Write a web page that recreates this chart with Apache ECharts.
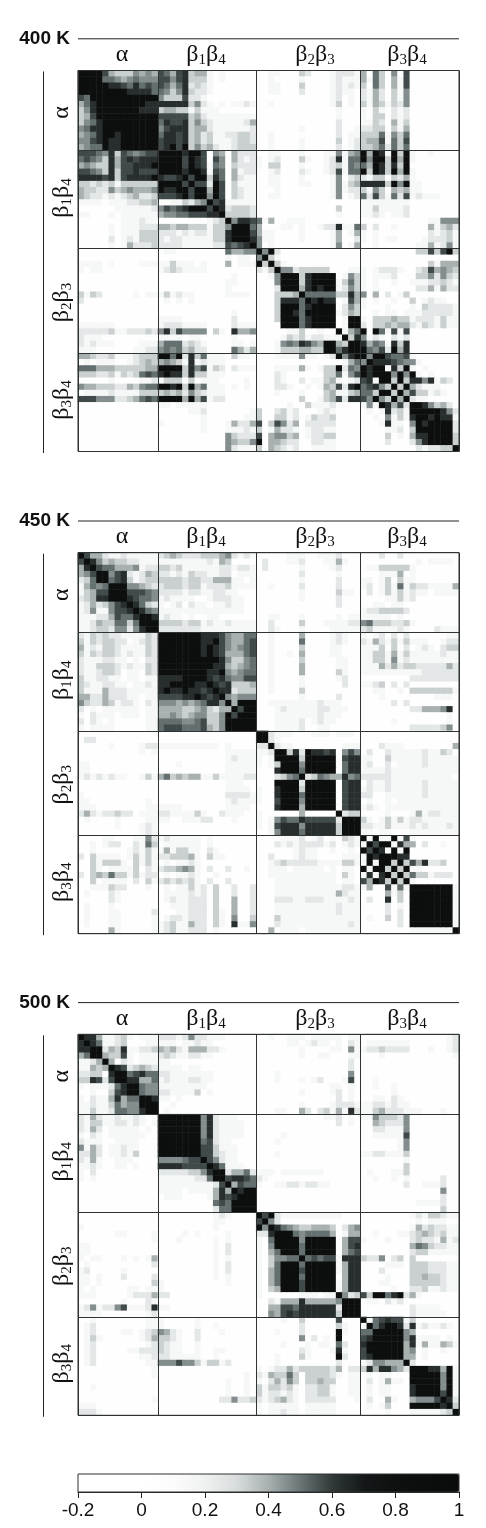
<!DOCTYPE html>
<html>
<head>
<meta charset="utf-8">
<style>html,body{margin:0;padding:0;background:#fff}#main{width:486px;height:1528px}</style>
<script src="https://cdn.jsdelivr.net/npm/echarts@6/dist/echarts.min.js"></script>
</head>
<body>
<div id="main"></div>
<script>
// residue groups along both axes of every matrix
const groupNames = [['α'], ['β', '1', 'β', '4'], ['β', '2', 'β', '3'], ['β', '3', 'β', '4']]
const groupSizes = [13, 16, 17, 16]
const temps = ['400 K', '450 K', '500 K']
const tickLabels = ['-0.2', '0', '0.2', '0.4', '0.6', '0.8', '1']

// grey level -> correlation value
const levels = [0.05, 0.15, 0.25, 0.33, 0.4, 0.46, 0.51, 0.57, 0.63, 0.85]

// matrices are symmetric: one row per residue, from the diagonal to the right,
// one digit (index in levels) per cell, a space at each group boundary
const m400 = [
'9999743335454 7647834410100000 00110003200012221 4063050700000000',
'999665456555 7757833310100000 00100001000012111 4163041700000000',
'99988768676 7646823210000000 00110003000012121 3063041700000000',
'9999988886 6535832210000000 00110002000012110 2142031500000000',
'999999999 5333722100000000 00000000000012010 2142031500000000',
'99999988 8888835210101121 00100000000013010 3143132500000000',
'9999888 3443313111000000 00000000000001000 1031021200000000',
'999999 7777734211111111 00000000000001000 1033021200000000',
'99999 6877835321111124 00000000000002000 1132041300000000',
'9999 5788834421111112 00000001000002001 2233031400000000',
'999 6887834231122332 00100000000002011 3336153600000000',
'99 7887834231112332 00100001000003012 3447163700000000',
'9 7897935342112333 00100001000002012 3346263600000000',
'9999899705404222 00110001000115145 9498193910010000',
'999798707504212 10120003100128166 9599394910000000',
'99798716503222 10330001000123165 6498383900000000',
'9899817604122 00120002100127166 9398394910000000',
'979938604211 00110001000015023 2133032410000000',
'97729703111 00110001100015134 8888395911000000',
'9949703211 00010000000015122 3153043411000000',
'959703211 00110000000015012 6273162712111000',
'97811111 00000000000000000 1111111100000000',
'9823332 00000000000003000 1131111200000000',
'933332 00000000000001000 1121011200000000',
'95887 61400111000000000 0000000000011555',
'9996 40001101001228116 3020010000041342',
'997 41100001000014014 1010000000021231',
'98 51100001000014002 1010110000122231',
'9 50100000000015014 0010000001141251',
'95920000000000000 0000000003373793',
'9310000000000000 0000000000000000',
'931000000000000 0000000000031444',
'95523333300011 1012221002374543',
'9993899990153 1011120003352532',
'993899991363 1010010011122321',
'94898991253 1010000002241422',
'9666663384 5040201300000000',
'989880174 1010010030121100',
'99990253 1000100010322221',
'9991243 0010110111222221',
'990199 1033343312221311',
'90199 2033434421321311',
'9146 9096171700000000',
'938 5121021200000000',
'99 8465183800000000',
'9 9657294800000000',
'9599766710000000',
'988876551000000',
'99183910100000',
'9959591010000',
'939388581320',
'93942111000',
'9473312100',
'921100000',
'99853420',
'9999852',
'989881',
'99992',
'9992',
'993',
'93',
'9'
]

const m450 = [
'9744211211111 2343222333452121 00000111001112000 0002002000000000',
'985343322111 1111111121430000 02000112000114100 0000000001011110',
'97664445122 3323111111221221 02000001000012000 0113333310000000',
'9957821243 2212132211220111 00000002000001000 0001114010000000',
'967831233 3333233224441101 00000001000002000 1101303110000000',
'99955432 2333233122231111 00100002000002000 1201316132211114',
'9977765 2222122112211000 00000001000003110 0201313121101111',
'987665 1211110012221100 00000001000002000 0000113120000000',
'98632 1012021101121100 00000000000002000 0011011000000000',
'9865 1111111111111100 00000000000000000 1223333200000000',
'998 1211010011000000 00110001000001011 1111101000000000',
'99 3333233121121111 00200003000111122 5633322310000000',
'9 2222222111111111 00210001000011111 2311112100002111',
'9999999888754466 00100004000012100 1012020200000011',
'999999889754467 00100006000012100 2142131311100122',
'99999898754567 00100003000011000 1113030201210233',
'9999898744467 00100104000011000 1133141311111211',
'999999853356 00100003000001100 1133151211111111',
'99998843456 00100004000001100 1114242332222242',
'9988954566 00100004000003100 1111111111222222',
'987865577 00100001000001200 0000000022222222',
'98783334 00100001000000200 1123020200000000',
'9882333 00100003000000000 0011001033333331',
'954555 00000001000002000 0001000000001110',
'94999 00111111112111000 0000020200000000',
'9799 00012111112211100 0000000022444580',
'999 00011111112111000 0000000000000010',
'99 00011112012110000 0000010000000010',
'9 00011112001100000 0000000022222350',
'99211100011101110 0000000000000000',
'9210000000000000 0000000000000000',
'921100000000111 0002111000000004',
'99382988780575 0200211111211320',
'9993999990788 1100311111211111',
'995999990688 1200201111211111',
'96999990688 1111211111111111',
'9236544856 2222211111111110',
'999990788 0211211111211111',
'99990788 1211211111211111',
'9990788 2200111111211111',
'990788 0100101111111111',
'90788 1210111111111111',
'9233 0000100014122111',
'999 3101313122111111',
'99 2211311121211121',
'9 1101100011111111',
'9191191710000000',
'979918440200100',
'98191900000000',
'9998800000000',
'939374822300',
'93911000000',
'9363312220',
'910000000',
'99999991',
'9999991',
'999991',
'99991',
'9991',
'991',
'91',
'9'
]

const m500 = [
'9884112310111 2221252211100000 00100111011111011 0000000000000012',
'986112300011 1110112110000000 00000110121101021 0111111100000012',
'99243811223 4342144422100000 00000001000011051 1223222200010012',
'9433710111 2321122110000000 00000001001100011 0001000000000001',
'940210111 1100000000000000 00000000000000020 0000000000000000',
'98723432 1111011000000000 00000000000000020 0000000000000000',
'9967866 2211111110000000 00010000000000050 0000000000000000',
'988446 1211122110000000 00010001012000170 0010000000000000',
'99655 1111111100000000 00000000000011010 0010010000000000',
'9655 2211113010000000 00000001000012010 0000010000000000',
'998 1101000000000000 00000000000002010 0011021000000000',
'99 0010000000000000 00000001000012221 1122121100000000',
'9 0100000000000000 00011004202314182 1134222111000100',
'9999999582111000 00000000000112010 1153332500000000',
'999999582111100 00000000000002010 0043222500000000',
'99999582111100 00000000000000000 0022111500000000',
'9999582111100 00001000000000000 0011111700000000',
'999672110000 00010000000000000 0000001500000000',
'99773111000 00000000000000000 0000001500000000',
'9773211000 00010000000000000 1122111300000000',
'975211000 00000000000000000 0000000100000000',
'98611100 00000000000000000 0000000300000000',
'9924462 11101111111000000 0100011300000000',
'978876 21000000000000000 0010010100000200',
'94766 10011221221100000 0000000200111200',
'9899 00000000000000000 0000000000000500',
'999 00000000000000000 0000000000000200',
'99 00000000000000000 0000000001111200',
'9 00000000000000000 0000000000000300',
'97921111111111000 0000000012133211',
'9520000000000000 0000000001011100',
'986543344430245 0000000014232211',
'99965666640144 0010001123432311',
'9995999990477 1000100023221412',
'996999990478 0000000046532211',
'96999990467 0000000023311111',
'9676771888 3225023030000000',
'999991488 0000111033322211',
'99991488 0002000033322211',
'9990488 0000100033433211',
'991488 0001100033333211',
'91488 0000010022311211',
'9523 7399689241000000',
'999 0110212000000000',
'99 0000000021111000',
'9 0000000021111100',
'9167877130000000',
'968998281211210',
'99999540000000',
'9999581111010',
'999481411431',
'99450100100',
'9440100000',
'920000000',
'99988491',
'9999591',
'999591',
'99591',
'9791',
'982',
'93',
'9'
]

const matrices = [m400, m450, m500]

// layout
const panelLeft = 78
const panelSize = 381
const panelTops = [70.5, 552.7, 1034.3]
const axisLineX = 43.5
const labelOffsetsY = [42, 127.5, 232, 329.5]   // rotated labels, from the panel top
const labelCentersX = [44, 128, 237, 329]       // top labels, from the panel left

const total = groupSizes.reduce((a, b) => a + b, 0)
const cells = Array.from({ length: total }, (_, i) => String(i))
const boundaries = [0, 13, 29, 46]

function toCells(rows) {
  const out = []
  rows.forEach((row, r) => {
    // each part is right aligned to the end of its group
    const parts = row.split(' ')
    let end = total
    for (let p = parts.length - 1; p >= 0; p--) {
      const s = parts[p]
      const g = groupSizes.length - (parts.length - p)
      for (let k = 0; k < s.length; k++) {
        const c = end - s.length + k
        const v = levels[+s[k]]
        out.push([c, r, v])
        if (c !== r) out.push([r, c, v])
      }
      end -= groupSizes[g]
    }
  })
  return out
}

const richLabel = {
  a: { fontFamily: 'Liberation Serif', fontSize: 24, fill: '#111', lineHeight: 26 },
  s: { fontFamily: 'Liberation Serif', fontSize: 15, fill: '#111', lineHeight: 26, verticalAlign: 'bottom' }
}
function labelText(parts) {
  return parts.map((t, i) => (i % 2 ? '{s|' + t + '}' : '{a|' + t + '}')).join('')
}

const grids = [], xAxes = [], yAxes = [], series = [], graphics = []
const boundaryLine = { show: true, interval: i => boundaries.includes(i), lineStyle: { color: '#2f3333', width: 1 } }

matrices.forEach((rows, i) => {
  const top = panelTops[i]
  grids.push({ left: panelLeft, top: top, width: panelSize, height: panelSize, show: true, z: 10, backgroundColor: 'transparent', borderColor: '#2f3333', borderWidth: 1 })
  xAxes.push({ type: 'category', gridIndex: i, data: cells, z: 6, axisLine: { show: false }, axisTick: { show: false }, axisLabel: { show: false }, splitLine: boundaryLine })
  yAxes.push({ type: 'category', gridIndex: i, data: cells, inverse: true, z: 6, axisLine: { show: false }, axisTick: { show: false }, axisLabel: { show: false }, splitLine: boundaryLine })
  series.push({ type: 'heatmap', xAxisIndex: i, yAxisIndex: i, data: toCells(rows), silent: true, progressive: 0, itemStyle: { borderWidth: 0 }, emphasis: { disabled: true } })

  const lineY = top - 31.7
  graphics.push({ type: 'line', shape: { x1: panelLeft, y1: lineY, x2: panelLeft + panelSize, y2: lineY }, style: { stroke: '#222', lineWidth: 1 } })
  graphics.push({ type: 'line', shape: { x1: axisLineX, y1: top + 1, x2: axisLineX, y2: top + panelSize + 1.5 }, style: { stroke: '#222', lineWidth: 1 } })
  graphics.push({ type: 'text', x: 70, y: lineY, style: { text: temps[i], fontFamily: 'Liberation Sans', fontWeight: 'bold', fontSize: 19, fill: '#111', align: 'right', verticalAlign: 'middle' } })
  groupNames.forEach((name, g) => {
    graphics.push({ type: 'text', x: panelLeft + labelCentersX[g], y: top - 16, style: { text: labelText(name), rich: richLabel, align: 'center', verticalAlign: 'middle' } })
    graphics.push({ type: 'text', x: 62, y: top + labelOffsetsY[g], rotation: Math.PI / 2, style: { text: labelText(name), rich: richLabel, align: 'center', verticalAlign: 'middle' } })
  })
})

// colour bar: the visualMap itself, ticks from a value axis laid over it
const cbTop = 1474
const cbIndex = matrices.length
grids.push({ left: panelLeft, top: cbTop, width: panelSize, height: 18, show: true, z: 10, backgroundColor: 'transparent', borderColor: '#2f3333', borderWidth: 1 })
xAxes.push({
  type: 'value', gridIndex: cbIndex, min: -0.2, max: 1, interval: 0.2, position: 'bottom',
  axisLine: { show: true, lineStyle: { color: '#222' } },
  axisTick: { show: true, length: 6, lineStyle: { color: '#222' } },
  splitLine: { show: false },
  axisLabel: { show: true, margin: 9, fontFamily: 'Liberation Sans', fontSize: 19, color: '#111', hideOverlap: false, formatter: (v, i) => tickLabels[i] }
})
yAxes.push({ type: 'value', gridIndex: cbIndex, min: 0, max: 1, show: false })

const option = {
  animation: false,
  backgroundColor: '#fff',
  tooltip: { show: false },
  grid: grids,
  xAxis: xAxes,
  yAxis: yAxes,
  visualMap: {
    type: 'continuous', show: true, min: -0.2, max: 1, seriesIndex: [0, 1, 2],
    orient: 'horizontal', left: panelLeft, top: cbTop, itemWidth: 18, itemHeight: panelSize,
    padding: 0, calculable: false, realtime: false, hoverLink: false, text: null, showLabel: false,
    inRange: { color: ['#ffffff', '#ffffff', '#ffffff', '#fcfcfc', '#f0f1f1', '#d8dcdc', '#a8b0b0', '#6a7575', '#303838', '#151818', '#0e1010', '#0c0e0e', '#0a0c0c'] }
  },
  series: series,
  graphic: { elements: graphics }
}

const chart = echarts.init(document.getElementById('main'), null, { renderer: 'canvas' })
chart.setOption(option)
</script>
</body>
</html>
